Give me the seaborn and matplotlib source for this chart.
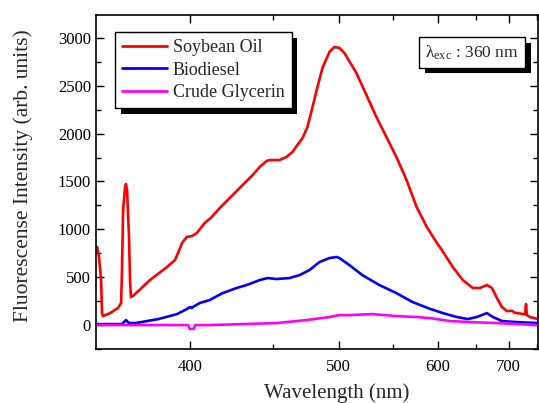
import numpy as np
import pandas as pd
import matplotlib
matplotlib.use("Agg")
import matplotlib.pyplot as plt
import matplotlib.patheffects as pe
from matplotlib.ticker import FixedLocator, NullFormatter
import seaborn as sns

# ---------------- data ----------------
soy_wl = [355.1, 355.5, 356.3, 357.2, 357.6, 358.0, 361.1, 364.6, 366.0, 366.4,
          366.9, 367.8, 368.2, 368.7, 369.6, 370.1, 370.5, 371.4, 379.5, 387.9,
          392.0, 393.6, 395.7, 398.2, 400.9, 403.6, 408.0, 412.0, 416.6, 422.5,
          430.4, 436.8, 441.3, 445.9, 447.9, 454.7, 459.6, 463.9, 469.1, 471.3,
          475.0, 478.9, 482.7, 486.7, 492.3, 496.4, 500.6, 504.8, 515.3, 524.4,
          533.8, 543.6, 553.7, 564.4, 575.4, 587.0, 598.9, 605.0, 618.7, 631.9,
          645.6, 655.6, 666.0, 673.6, 681.4, 689.3, 697.4, 705.7, 710.0, 724.6,
          728.5, 730.0, 731.5, 737.2, 752.3]
soy_val = [784, 815, 711, 470, 125, 94, 125, 178, 230, 575,
           1200, 1442, 1473, 1411, 920, 439, 293, 303, 470, 606,
           679, 752, 857, 920, 930, 961, 1066, 1129, 1223, 1327,
           1463, 1568, 1651, 1714, 1724, 1724, 1756, 1808, 1912, 1954,
           2069, 2278, 2487, 2686, 2853, 2905, 2895, 2843, 2633, 2404,
           2174, 1965, 1756, 1515, 1233, 1024, 857, 784, 606, 470,
           387, 387, 418, 387, 282, 188, 146, 150, 130, 115,
           112, 219, 105, 84, 63]

bio_wl = [355.1, 366.4, 368.2, 369.6, 372.6, 383.7, 393.1, 398.2, 399.8, 400.9,
          401.5, 405.2, 410.8, 418.3, 426.7, 432.9, 441.3, 446.6, 452.7, 461.8,
          469.1, 476.6, 484.3, 492.3, 498.1, 500.6, 509.1, 520.7, 536.7, 553.7,
          571.0, 590.5, 606.2, 623.9, 638.7, 651.3, 666.0, 675.2, 689.3, 714.2,
          752.3]
bio_val = [10, 10, 52, 21, 21, 63, 115, 167, 188, 178,
           188, 230, 261, 334, 387, 418, 470, 491, 481, 491,
           522, 575, 658, 700, 711, 700, 627, 522, 418, 334,
           240, 170, 125, 84, 63, 84, 125, 84, 42, 31,
           21]

gly_wl = [355.1, 380.0, 399.0, 399.8, 402.0, 402.8, 410.8, 430.4, 452.7, 474.3,
          492.3, 500.6, 509.1, 530.0, 553.7, 575.4, 590.5, 614.9, 641.5, 681.4,
          752.3]
gly_val = [0, 0, 0, -40, -40, 0, 0, 10, 21, 52,
           84, 104, 104, 115, 94, 84, 73, 42, 31, 21,
           0]

labels = ["Soybean Oil", "Biodiesel", "Crude Glycerin"]
colors = ["#ff0000", "#0000ff", "#ff00ff"]
x_major = [400, 500, 600, 700]
x_minor = [450, 550, 650, 750]
y_major = [0, 500, 1000, 1500, 2000, 2500, 3000]

df = pd.concat([
    pd.DataFrame({"wl": soy_wl, "val": soy_val, "sample": labels[0]}),
    pd.DataFrame({"wl": bio_wl, "val": bio_val, "sample": labels[1]}),
    pd.DataFrame({"wl": gly_wl, "val": gly_val, "sample": labels[2]}),
], ignore_index=True)

# ---------------- style ----------------
sns.set_style("ticks")
plt.rcParams["font.family"] = ["Liberation Serif", "DejaVu Serif"]
plt.rcParams["mathtext.fontset"] = "custom"
plt.rcParams["mathtext.rm"] = "Liberation Serif"
plt.rcParams["mathtext.it"] = "Liberation Serif:italic"

fig = plt.figure(figsize=(5.39, 4.03), dpi=100)
ax = fig.add_axes([0.178, 0.134, 0.82, 0.829])

sns.lineplot(data=df, x="wl", y="val", hue="sample", palette=dict(zip(labels, colors)),
             hue_order=labels, estimator=None, sort=True, lw=1.9, ax=ax)

# energy-like (reciprocal) wavelength axis
def fwd(x):
    x = np.asarray(x, dtype=float)
    with np.errstate(divide="ignore", invalid="ignore"):
        return -1.0 / x

def inv(y):
    y = np.asarray(y, dtype=float)
    with np.errstate(divide="ignore", invalid="ignore"):
        return -1.0 / y

ax.set_xscale("function", functions=(fwd, inv))
ax.set_xlim(355, 752)
ax.set_ylim(-250, 3240)

ax.xaxis.set_major_locator(FixedLocator(x_major))
ax.xaxis.set_minor_locator(FixedLocator(x_minor))
ax.xaxis.set_minor_formatter(NullFormatter())
ax.set_xticklabels([str(v) for v in x_major])
ax.yaxis.set_major_locator(FixedLocator(y_major))
ax.yaxis.set_minor_locator(FixedLocator(np.arange(-250, 3251, 250)))

for s in ax.spines.values():
    s.set_visible(True)
    s.set_linewidth(1.2)
    s.set_color("black")

ax.tick_params(which="both", direction="in", top=True, right=True, colors="black",
               labelsize=12, width=1.0)
ax.tick_params(which="major", length=6)
ax.tick_params(which="minor", length=3.5)
ax.tick_params(axis="x", pad=7)

ax.set_xlabel("Wavelength (nm)", fontsize=15)
ax.set_ylabel("Fluorescense Intensity (arb. units)", fontsize=15.5)
ax.xaxis.set_label_coords(0.545, -0.102)
ax.yaxis.set_label_coords(-0.1425, 0.518)

handles, labs = ax.get_legend_handles_labels()
leg = ax.legend(handles, labs, loc="upper left", bbox_to_anchor=(0.043, 0.949),
                borderaxespad=0, frameon=True, fancybox=False, fontsize=13,
                handlelength=2.5, handletextpad=0.3, labelspacing=0.3,
                borderpad=0.4, framealpha=1)
frame = leg.get_frame()
frame.set_edgecolor("black")
frame.set_linewidth(1.0)
frame.set_path_effects([pe.SimplePatchShadow(offset=(4, -4), shadow_rgbFace="black", alpha=1.0),
                        pe.Normal()])
for line in leg.get_lines():
    line.set_linewidth(2.0)

t = ax.text(0.957, 0.915, "λ$_{\\rm exc}$ : 360 nm", transform=ax.transAxes,
            ha="right", va="top", fontsize=12.5,
            bbox=dict(boxstyle="square,pad=0.35", facecolor="white", edgecolor="black", linewidth=1.0))
t.get_bbox_patch().set_path_effects([pe.SimplePatchShadow(offset=(4, -4), shadow_rgbFace="black", alpha=1.0),
                                     pe.Normal()])

fig.savefig("out.png", dpi=100)
